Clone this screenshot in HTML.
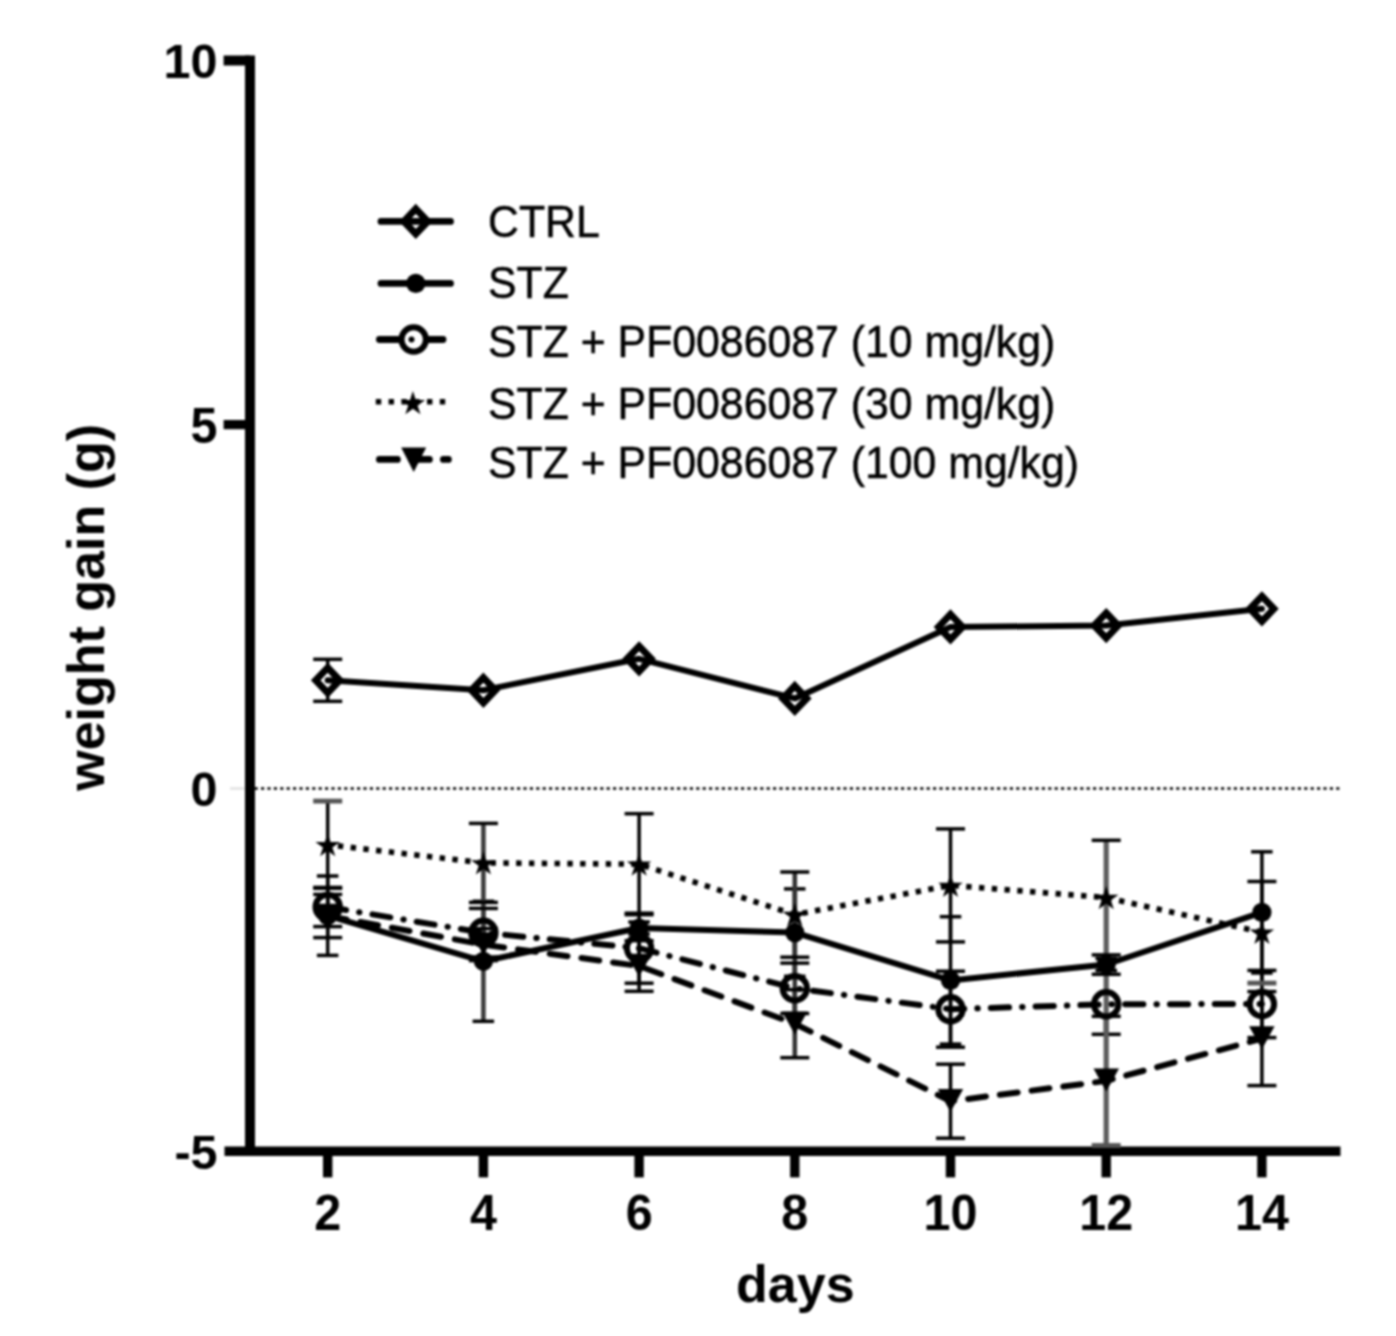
<!DOCTYPE html>
<html lang="en">
<head>
<meta charset="utf-8">
<title>Weight gain (g) over days</title>
<style>
html,body{margin:0;padding:0;background:#fff;}
body{width:1396px;height:1336px;overflow:hidden;}
svg{display:block;filter:blur(1.3px);}
</style>
</head>
<body>
<svg width="1396" height="1336" viewBox="0 0 1396 1336">
<rect width="1396" height="1336" fill="#fff"/>
<line x1="230" y1="788.5" x2="244.5" y2="788.5" stroke="#e6e6e6" stroke-width="3"/><line x1="254.6" y1="788.5" x2="1341" y2="788.5" stroke="#000" stroke-width="2.6" stroke-dasharray="3.2 3.2"/>
<g id="axes" stroke="#000" fill="none">
<line x1="250.0" y1="55.5" x2="250.0" y2="1156" stroke-width="10"/>
<line x1="224.5" y1="1151.2" x2="1340.5" y2="1151.2" stroke-width="9.6"/>
<line x1="223.6" y1="60.5" x2="250" y2="60.5" stroke-width="10"/>
<line x1="223.6" y1="424.6" x2="250" y2="424.6" stroke-width="9.2"/>
<line x1="327.7" y1="1151" x2="327.7" y2="1177.4" stroke-width="9.4"/>
<line x1="483.4" y1="1151" x2="483.4" y2="1177.4" stroke-width="9.4"/>
<line x1="639.1" y1="1151" x2="639.1" y2="1177.4" stroke-width="9.4"/>
<line x1="794.8" y1="1151" x2="794.8" y2="1177.4" stroke-width="9.4"/>
<line x1="950.5" y1="1151" x2="950.5" y2="1177.4" stroke-width="9.4"/>
<line x1="1106.2" y1="1151" x2="1106.2" y2="1177.4" stroke-width="9.4"/>
<line x1="1261.9" y1="1151" x2="1261.9" y2="1177.4" stroke-width="9.4"/>
</g>
<g id="errorbars">
<path d="M327.7 659.3V667.3M327.7 693.3V701.3" stroke="#000" stroke-width="3.5" fill="none"/>
<path d="M313.2 659.3h29" stroke="#000" stroke-width="3.5" fill="none"/>
<path d="M313.2 701.3h29" stroke="#000" stroke-width="3.5" fill="none"/>
<path d="M327.7 876.0V955.4" stroke="#000" stroke-width="3.5" fill="none"/>
<path d="M316.9 876.0h21.5" stroke="#000" stroke-width="3.5" fill="none"/>
<path d="M316.9 955.4h21.5" stroke="#000" stroke-width="3.5" fill="none"/>
<path d="M483.4 901.3V1021.3" stroke="#3c3c3c" stroke-width="4.6" fill="none"/>
<path d="M472.6 901.3h21.5" stroke="#000" stroke-width="3.5" fill="none"/>
<path d="M472.6 1021.3h21.5" stroke="#000" stroke-width="3.5" fill="none"/>
<path d="M639.1 922.0V934.0" stroke="#000" stroke-width="3.5" fill="none"/>
<path d="M628.3 922.0h21.5" stroke="#000" stroke-width="3.5" fill="none"/>
<path d="M628.3 934.0h21.5" stroke="#000" stroke-width="3.5" fill="none"/>
<path d="M794.8 888.9V976.3" stroke="#333" stroke-width="4.6" fill="none"/>
<path d="M784.0 888.9h21.5" stroke="#000" stroke-width="3.5" fill="none"/>
<path d="M784.0 976.3h21.5" stroke="#000" stroke-width="3.5" fill="none"/>
<path d="M950.5 916.7V1044.1" stroke="#000" stroke-width="3.5" fill="none"/>
<path d="M939.8 916.7h21.5" stroke="#000" stroke-width="3.5" fill="none"/>
<path d="M939.8 1044.1h21.5" stroke="#000" stroke-width="3.5" fill="none"/>
<path d="M1106.2 958.5V970.5" stroke="#5c5c5c" stroke-width="5.2" fill="none"/>
<path d="M1095.5 958.5h21.5" stroke="#000" stroke-width="3.5" fill="none"/>
<path d="M1095.5 970.5h21.5" stroke="#000" stroke-width="3.5" fill="none"/>
<path d="M1261.9 851.8V973.0" stroke="#000" stroke-width="3.5" fill="none"/>
<path d="M1251.1 851.8h21.5" stroke="#000" stroke-width="3.5" fill="none"/>
<path d="M1251.1 973.0h21.5" stroke="#000" stroke-width="3.5" fill="none"/>
<path d="M327.7 887.4V926.6" stroke="#000" stroke-width="3.5" fill="none"/>
<path d="M313.2 887.4h29" stroke="#000" stroke-width="3.5" fill="none"/>
<path d="M313.2 926.6h29" stroke="#000" stroke-width="3.5" fill="none"/>
<path d="M483.4 908.4V957.0" stroke="#3c3c3c" stroke-width="4.6" fill="none"/>
<path d="M468.9 908.4h29" stroke="#000" stroke-width="3.5" fill="none"/>
<path d="M468.9 957.0h29" stroke="#000" stroke-width="3.5" fill="none"/>
<path d="M639.1 913.2V983.2" stroke="#000" stroke-width="3.5" fill="none"/>
<path d="M624.6 913.2h29" stroke="#000" stroke-width="3.5" fill="none"/>
<path d="M624.6 983.2h29" stroke="#000" stroke-width="3.5" fill="none"/>
<path d="M794.8 963.1V1013.5" stroke="#333" stroke-width="4.6" fill="none"/>
<path d="M780.3 963.1h29" stroke="#000" stroke-width="3.5" fill="none"/>
<path d="M780.3 1013.5h29" stroke="#000" stroke-width="3.5" fill="none"/>
<path d="M950.5 971.2V1047.2" stroke="#000" stroke-width="3.5" fill="none"/>
<path d="M936.0 971.2h29" stroke="#000" stroke-width="3.5" fill="none"/>
<path d="M936.0 1047.2h29" stroke="#000" stroke-width="3.5" fill="none"/>
<path d="M1106.2 974.3V1034.3" stroke="#5c5c5c" stroke-width="5.2" fill="none"/>
<path d="M1091.7 974.3h29" stroke="#000" stroke-width="3.5" fill="none"/>
<path d="M1091.7 1034.3h29" stroke="#000" stroke-width="3.5" fill="none"/>
<path d="M1261.9 970.4V1037.6" stroke="#000" stroke-width="3.5" fill="none"/>
<path d="M1247.4 970.4h29" stroke="#000" stroke-width="3.5" fill="none"/>
<path d="M1247.4 1037.6h29" stroke="#000" stroke-width="3.5" fill="none"/>
<path d="M327.7 801.1V888.3" stroke="#000" stroke-width="3.5" fill="none"/>
<path d="M313.2 801.1h29" stroke="#555" stroke-width="4.8" fill="none"/>
<path d="M313.2 888.3h29" stroke="#000" stroke-width="3.5" fill="none"/>
<path d="M483.4 823.4V902.4" stroke="#3c3c3c" stroke-width="4.6" fill="none"/>
<path d="M468.9 823.4h29" stroke="#000" stroke-width="3.5" fill="none"/>
<path d="M468.9 902.4h29" stroke="#000" stroke-width="3.5" fill="none"/>
<path d="M639.1 813.7V914.7" stroke="#000" stroke-width="3.5" fill="none"/>
<path d="M624.6 813.7h29" stroke="#000" stroke-width="3.5" fill="none"/>
<path d="M624.6 914.7h29" stroke="#000" stroke-width="3.5" fill="none"/>
<path d="M794.8 872.0V957.2" stroke="#333" stroke-width="4.6" fill="none"/>
<path d="M780.3 872.0h29" stroke="#000" stroke-width="3.5" fill="none"/>
<path d="M780.3 957.2h29" stroke="#000" stroke-width="3.5" fill="none"/>
<path d="M950.5 828.9V941.9" stroke="#000" stroke-width="3.5" fill="none"/>
<path d="M936.0 828.9h29" stroke="#000" stroke-width="3.5" fill="none"/>
<path d="M936.0 941.9h29" stroke="#000" stroke-width="3.5" fill="none"/>
<path d="M1106.2 840.3V954.9" stroke="#5c5c5c" stroke-width="5.2" fill="none"/>
<path d="M1091.7 840.3h29" stroke="#000" stroke-width="3.5" fill="none"/>
<path d="M1091.7 954.9h29" stroke="#000" stroke-width="3.5" fill="none"/>
<path d="M1261.9 881.5V983.1" stroke="#000" stroke-width="3.5" fill="none"/>
<path d="M1247.4 881.5h29" stroke="#000" stroke-width="3.5" fill="none"/>
<path d="M1247.4 983.1h29" stroke="#555" stroke-width="4.8" fill="none"/>
<path d="M327.7 894.4V937.6" stroke="#000" stroke-width="3.5" fill="none"/>
<path d="M313.2 894.4h29" stroke="#000" stroke-width="3.5" fill="none"/>
<path d="M313.2 937.6h29" stroke="#000" stroke-width="3.5" fill="none"/>
<path d="M483.4 928.6V960.6" stroke="#3c3c3c" stroke-width="4.6" fill="none"/>
<path d="M468.9 928.6h29" stroke="#000" stroke-width="3.5" fill="none"/>
<path d="M468.9 960.6h29" stroke="#000" stroke-width="3.5" fill="none"/>
<path d="M639.1 940.7V991.3" stroke="#000" stroke-width="3.5" fill="none"/>
<path d="M624.6 940.7h29" stroke="#000" stroke-width="3.5" fill="none"/>
<path d="M624.6 991.3h29" stroke="#000" stroke-width="3.5" fill="none"/>
<path d="M794.8 989.7V1057.7" stroke="#333" stroke-width="4.6" fill="none"/>
<path d="M780.3 989.7h29" stroke="#000" stroke-width="3.5" fill="none"/>
<path d="M780.3 1057.7h29" stroke="#000" stroke-width="3.5" fill="none"/>
<path d="M950.5 1064.2V1138.2" stroke="#000" stroke-width="3.5" fill="none"/>
<path d="M936.0 1064.2h29" stroke="#000" stroke-width="3.5" fill="none"/>
<path d="M936.0 1138.2h29" stroke="#000" stroke-width="3.5" fill="none"/>
<path d="M1106.2 1016.3V1145.5" stroke="#5c5c5c" stroke-width="5.2" fill="none"/>
<path d="M1091.7 1016.3h29" stroke="#000" stroke-width="3.5" fill="none"/>
<path d="M1091.7 1145.5h29" stroke="#555" stroke-width="4.8" fill="none"/>
<path d="M1261.9 991.6V1085.6" stroke="#000" stroke-width="3.5" fill="none"/>
<path d="M1247.4 991.6h29" stroke="#000" stroke-width="3.5" fill="none"/>
<path d="M1247.4 1085.6h29" stroke="#000" stroke-width="3.5" fill="none"/>
</g>
<g id="s-ctrl">
<polyline points="327.7,680.3 483.4,690.2 639.1,658.8 794.8,698.4 950.5,626.9 1106.2,625.6 1261.9,608.8" fill="none" stroke="#000" stroke-width="6.0" stroke-linecap="round" stroke-linejoin="round"/>
<path d="M327.7 667.7L339.7 680.3L327.7 692.9L315.7 680.3Z" fill="none" stroke="#000" stroke-width="7.0" stroke-linejoin="miter"/>
<path d="M483.4 677.6L495.4 690.2L483.4 702.8L471.4 690.2Z" fill="none" stroke="#000" stroke-width="7.0" stroke-linejoin="miter"/>
<path d="M639.1 646.2L651.1 658.8L639.1 671.4L627.1 658.8Z" fill="none" stroke="#000" stroke-width="7.0" stroke-linejoin="miter"/>
<path d="M794.8 685.8L806.8 698.4L794.8 711.0L782.8 698.4Z" fill="none" stroke="#000" stroke-width="7.0" stroke-linejoin="miter"/>
<path d="M950.5 614.3L962.5 626.9L950.5 639.5L938.5 626.9Z" fill="none" stroke="#000" stroke-width="7.0" stroke-linejoin="miter"/>
<path d="M1106.2 613.0L1118.2 625.6L1106.2 638.2L1094.2 625.6Z" fill="none" stroke="#000" stroke-width="7.0" stroke-linejoin="miter"/>
<path d="M1261.9 596.2L1273.9 608.8L1261.9 621.4L1249.9 608.8Z" fill="none" stroke="#000" stroke-width="7.0" stroke-linejoin="miter"/>
</g>
<g id="s-stz">
<polyline points="327.7,915.7 483.4,961.3 639.1,928.0 794.8,932.6 950.5,980.4 1106.2,964.5 1261.9,912.4" fill="none" stroke="#000" stroke-width="6.0" stroke-linejoin="round"/>
<circle cx="327.7" cy="915.7" r="9.6" fill="#000"/>
<circle cx="483.4" cy="961.3" r="9.6" fill="#000"/>
<circle cx="639.1" cy="928.0" r="9.6" fill="#000"/>
<circle cx="794.8" cy="932.6" r="9.6" fill="#000"/>
<circle cx="950.5" cy="980.4" r="9.6" fill="#000"/>
<circle cx="1106.2" cy="964.5" r="9.6" fill="#000"/>
<circle cx="1261.9" cy="912.4" r="9.6" fill="#000"/>
</g>
<g id="s-10">
<polyline points="327.7,907.0 483.4,932.7 639.1,948.2 794.8,988.3 950.5,1009.2 1106.2,1004.3 1261.9,1004.0" fill="none" stroke="#000" stroke-width="6.0" stroke-dasharray="18.2 13.1 0.4 13.1" stroke-dashoffset="-0.50" stroke-linecap="round"/>
<circle cx="327.7" cy="907.0" r="12.2" fill="none" stroke="#000" stroke-width="6"/>
<circle cx="483.4" cy="932.7" r="12.2" fill="none" stroke="#000" stroke-width="6"/>
<circle cx="639.1" cy="948.2" r="12.2" fill="none" stroke="#000" stroke-width="6"/>
<circle cx="794.8" cy="988.3" r="12.2" fill="none" stroke="#000" stroke-width="6"/>
<circle cx="950.5" cy="1009.2" r="12.2" fill="none" stroke="#000" stroke-width="6"/>
<circle cx="1106.2" cy="1004.3" r="12.2" fill="none" stroke="#000" stroke-width="6"/>
<circle cx="1261.9" cy="1004.0" r="12.2" fill="none" stroke="#000" stroke-width="6"/>
</g>
<g id="s-30">
<polyline points="327.7,844.7 483.4,862.9 639.1,864.2 794.8,914.6 950.5,885.4 1106.2,897.6 1261.9,932.3" fill="none" stroke="#000" stroke-width="5.6" stroke-dasharray="5.4 7.4" stroke-dashoffset="2.50"/>
<polygon points="327.70,833.03 330.60,841.95 339.97,841.95 332.39,847.45 335.28,856.37 327.70,850.86 320.12,856.37 323.01,847.45 315.43,841.95 324.80,841.95" fill="#000"/>
<polygon points="483.40,851.23 486.30,860.15 495.67,860.15 488.09,865.65 490.98,874.57 483.40,869.06 475.82,874.57 478.71,865.65 471.13,860.15 480.50,860.15" fill="#000"/>
<polygon points="639.10,852.53 642.00,861.45 651.37,861.45 643.79,866.95 646.68,875.87 639.10,870.36 631.52,875.87 634.41,866.95 626.83,861.45 636.20,861.45" fill="#000"/>
<polygon points="794.80,902.93 797.70,911.85 807.07,911.85 799.49,917.35 802.38,926.27 794.80,920.76 787.22,926.27 790.11,917.35 782.53,911.85 791.90,911.85" fill="#000"/>
<polygon points="950.50,873.73 953.40,882.65 962.77,882.65 955.19,888.15 958.08,897.07 950.50,891.56 942.92,897.07 945.81,888.15 938.23,882.65 947.60,882.65" fill="#000"/>
<polygon points="1106.20,885.93 1109.10,894.85 1118.47,894.85 1110.89,900.35 1113.78,909.27 1106.20,903.76 1098.62,909.27 1101.51,900.35 1093.93,894.85 1103.30,894.85" fill="#000"/>
<polygon points="1261.90,920.63 1264.80,929.55 1274.17,929.55 1266.59,935.05 1269.48,943.97 1261.90,938.46 1254.32,943.97 1257.21,935.05 1249.63,929.55 1259.00,929.55" fill="#000"/>
</g>
<g id="s-100">
<polyline points="327.7,916.0 483.4,944.6 639.1,966.0 794.8,1023.7 950.5,1101.2 1106.2,1080.9 1261.9,1038.6" fill="none" stroke="#000" stroke-width="6.0" stroke-dasharray="18 14" stroke-dashoffset="-1.20" stroke-linecap="round"/>
<polygon points="314.9,903.7 340.4,903.7 327.7,926.7" fill="#000"/>
<polygon points="470.6,932.3 496.1,932.3 483.4,955.3" fill="#000"/>
<polygon points="626.3,953.7 651.8,953.7 639.1,976.7" fill="#000"/>
<polygon points="782.0,1011.4 807.5,1011.4 794.8,1034.4" fill="#000"/>
<polygon points="937.8,1088.9 963.2,1088.9 950.5,1111.9" fill="#000"/>
<polygon points="1093.5,1068.6 1119.0,1068.6 1106.2,1091.6" fill="#000"/>
<polygon points="1249.1,1026.3 1274.6,1026.3 1261.9,1049.3" fill="#000"/>
</g>
<g font-family="'Liberation Sans', Arial, Helvetica, sans-serif" font-weight="bold" font-size="48" fill="#000">
<text transform="translate(217.5,78.4) scale(1.01,1.01)" text-anchor="end">10</text>
<text transform="translate(217.5,442.8) scale(1.01,1.035)" text-anchor="end">5</text>
<text transform="translate(217.5,805.9) scale(1.01,1.01)" text-anchor="end">0</text>
<text transform="translate(217.5,1169.4) scale(1.01,1.0)" text-anchor="end">-5</text>
<text transform="translate(327.7,1229.8) scale(1.01,1.06)" text-anchor="middle">2</text>
<text transform="translate(483.4,1229.8) scale(1.01,1.06)" text-anchor="middle">4</text>
<text transform="translate(639.1,1229.8) scale(1.01,1.06)" text-anchor="middle">6</text>
<text transform="translate(794.8,1229.8) scale(1.01,1.06)" text-anchor="middle">8</text>
<text transform="translate(950.5,1229.8) scale(1.01,1.06)" text-anchor="middle">10</text>
<text transform="translate(1106.2,1229.8) scale(1.01,1.06)" text-anchor="middle">12</text>
<text transform="translate(1261.9,1229.8) scale(1.01,1.06)" text-anchor="middle">14</text>
<text x="795.3" y="1302.3" text-anchor="middle" font-size="52">days</text>
<text transform="translate(104.4,607.4) rotate(-90)" text-anchor="middle" font-size="52">weight gain (g)</text>
</g>
<g id="legend">
<line x1="381" y1="221.4" x2="450.5" y2="221.4" stroke="#000" stroke-width="6.8" stroke-linecap="round"/>
<path d="M415.8 208.8L427.8 221.4L415.8 234.0L403.8 221.4Z" fill="none" stroke="#000" stroke-width="7.0" stroke-linejoin="miter"/>
<line x1="381" y1="283.4" x2="450.5" y2="283.4" stroke="#000" stroke-width="6.8" stroke-linecap="round"/>
<circle cx="415.8" cy="283.4" r="9.6" fill="#000"/>
<path d="M379.4 339.5H398M427 339.5H443" stroke="#000" stroke-width="6.8" stroke-linecap="round" fill="none"/>
<circle cx="413.7" cy="339.5" r="12.2" fill="none" stroke="#000" stroke-width="6"/>
<circle cx="411.5" cy="339.5" r="3" fill="#000"/>
<line x1="375.8" y1="401.7" x2="451.4" y2="401.7" stroke="#000" stroke-width="5.6" stroke-dasharray="5.4 7.4"/>
<polygon points="412.90,391.03 415.80,399.95 425.17,399.95 417.59,405.45 420.48,414.37 412.90,408.86 405.32,414.37 408.21,405.45 400.63,399.95 410.00,399.95" fill="#000"/>
<path d="M379.4 459.4h18M411.4 459.4h18M443.4 459.4h5" stroke="#000" stroke-width="6.8" stroke-linecap="round" fill="none"/>
<polygon points="401.2,447.5 426.2,447.5 413.7,472.0" fill="#000"/>
</g>
<g font-family="'Liberation Sans', Arial, Helvetica, sans-serif" font-size="42.8" fill="#000">
<text transform="translate(488.0,237.3) scale(1,1.05)" stroke="#000" stroke-width="0.5">CTRL</text>
<text transform="translate(488.0,298.4) scale(1,1.05)" stroke="#000" stroke-width="0.5">STZ</text>
<text transform="translate(488.0,356.5) scale(1,1.05)" stroke="#000" stroke-width="0.5">STZ + PF0086087 (10 mg/kg)</text>
<text transform="translate(488.0,418.7) scale(1,1.05)" stroke="#000" stroke-width="0.5">STZ + PF0086087 (30 mg/kg)</text>
<text transform="translate(488.0,477.7) scale(1,1.05)" stroke="#000" stroke-width="0.5">STZ + PF0086087 (100 mg/kg)</text>
</g>
</svg>
</body>
</html>
